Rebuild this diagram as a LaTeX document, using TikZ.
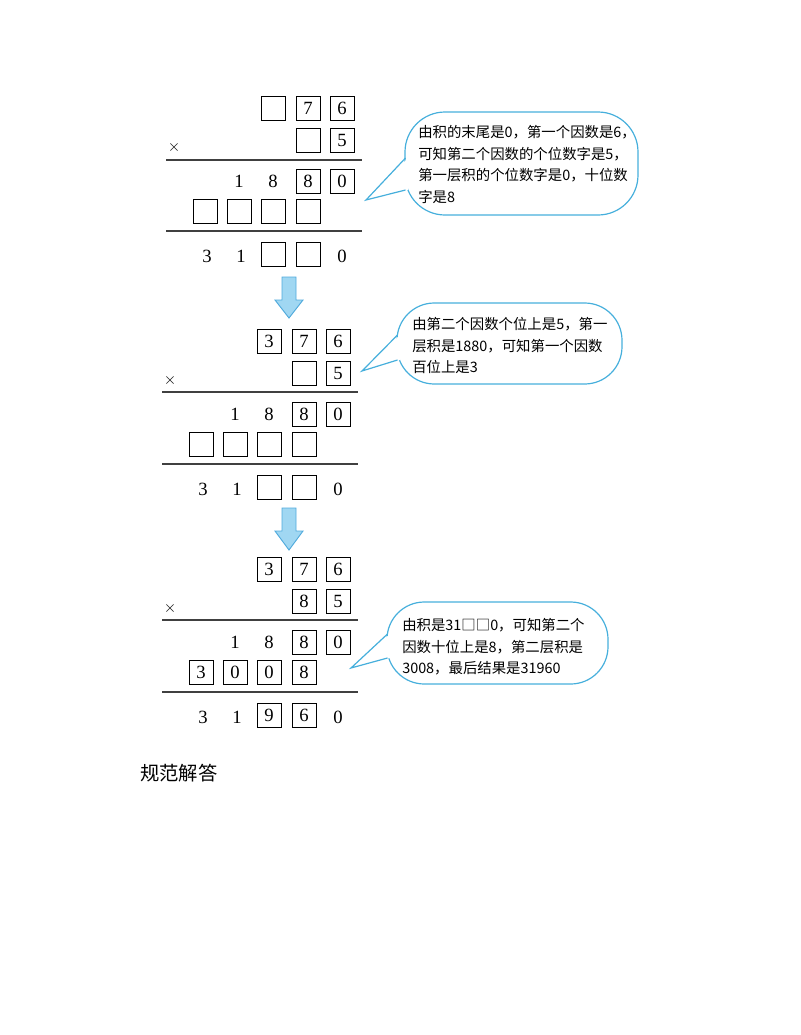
\documentclass[tikz,border=0pt]{standalone}
\usepackage{fontspec}
\setmainfont{Liberation Serif}
\newfontfamily\cjk{Noto Sans CJK SC}
\begin{document}
\begin{tikzpicture}[x=0.75pt,y=-0.75pt,
  dg/.style={inner sep=0pt,minimum size=18pt,font=\fontsize{14}{14}\selectfont},
  bx/.style={dg,draw,line width=0.7pt},
  rule/.style={line width=0.8pt,draw=black!75},
  bcol/.style={draw={rgb,255:red,70;green,175;blue,220},line width=0.9pt},
  btxt/.style={anchor=north west,align=left,inner sep=0pt,font=\cjk\fontsize{10.8}{16.2}\selectfont},
  barrow/.style={fill={rgb,255:red,160;green,215;blue,242},draw={rgb,255:red,80;green,170;blue,220},line width=0.7pt}]
\useasboundingbox (0,0) rectangle (800,1035);
% block 1
\node[bx] (a1) at (273,108) {};
\node[bx] (a2) at (308,108) {7};
\node[bx] (a3) at (342,108) {6};
\node[bx] (a4) at (308,140) {};
\node[bx] (a5) at (342,140) {5};
\node[dg] (ax) at (174,147) {\fontsize{13}{13}\selectfont$\times$};
\draw[rule] (166,160) -- (362,160);
\node[dg] (a6) at (239,181) {1};
\node[dg] (a7) at (273,181) {8};
\node[bx] (a8) at (308,181) {8};
\node[bx] (a9) at (342,181) {0};
\node[bx] (a10) at (205,211) {};
\node[bx] (a11) at (239,211) {};
\node[bx] (a12) at (273,211) {};
\node[bx] (a13) at (308,211) {};
\draw[rule] (166,231) -- (362,231);
\node[dg] (a14) at (207,256) {3};
\node[dg] (a15) at (241,256) {1};
\node[bx] (a16) at (273,254) {};
\node[bx] (a17) at (308,254) {};
\node[dg] (a18) at (342,256) {0};
\draw[bcol,rounded corners=30] (405,112) rectangle (638,215);
\fill[white] (408,158) -- (366,200) -- (408,190) -- cycle;
\draw[bcol] (405.5,158) -- (366,200) -- (405.5,190);
\node[btxt] (t1) at (418,125) {由积的末尾是0，第一个因数是6，\\可知第二个因数的个位数字是5，\\第一层积的个位数字是0，十位数\\字是8};
% arrow 1
\draw[barrow] (282,277) -- (296,277) -- (296,300) -- (303,300) -- (289,318) -- (275,300) -- (282,300) -- cycle;
% block 2
\begin{scope}[shift={(-4,233)}]
\node[bx] (b1) at (273,108) {3};
\node[bx] (b2) at (308,108) {7};
\node[bx] (b3) at (342,108) {6};
\node[bx] (b4) at (308,140) {};
\node[bx] (b5) at (342,140) {5};
\node[dg] (bx) at (174,147) {\fontsize{13}{13}\selectfont$\times$};
\draw[rule] (166,159) -- (362,159);
\node[dg] (b6) at (239,181) {1};
\node[dg] (b7) at (273,181) {8};
\node[bx] (b8) at (308,181) {8};
\node[bx] (b9) at (342,181) {0};
\node[bx] (b10) at (205,211) {};
\node[bx] (b11) at (239,211) {};
\node[bx] (b12) at (273,211) {};
\node[bx] (b13) at (308,211) {};
\draw[rule] (166,231) -- (362,231);
\node[dg] (b14) at (207,256) {3};
\node[dg] (b15) at (241,256) {1};
\node[bx] (b16) at (273,254) {};
\node[bx] (b17) at (308,254) {};
\node[dg] (b18) at (342,256) {0};
\end{scope}
\draw[bcol,rounded corners=28] (397,303) rectangle (622,384);
\fill[white] (400,335) -- (362,371) -- (400,360) -- cycle;
\draw[bcol] (397.5,335) -- (362,371) -- (397.5,360);
\node[btxt] (t2) at (412,317) {由第二个因数个位上是5，第一\\层积是1880，可知第一个因数\\百位上是3};
% arrow 2
\draw[barrow] (282,508) -- (296,508) -- (296,531) -- (303,531) -- (289,550) -- (275,531) -- (282,531) -- cycle;
% block 3
\begin{scope}[shift={(-4,461)}]
\node[bx] (c1) at (273,108) {3};
\node[bx] (c2) at (308,108) {7};
\node[bx] (c3) at (342,108) {6};
\node[bx] (c4) at (308,140) {8};
\node[bx] (c5) at (342,140) {5};
\node[dg] (cx) at (174,147) {\fontsize{13}{13}\selectfont$\times$};
\draw[rule] (166,159) -- (362,159);
\node[dg] (c6) at (239,181) {1};
\node[dg] (c7) at (273,181) {8};
\node[bx] (c8) at (308,181) {8};
\node[bx] (c9) at (342,181) {0};
\node[bx] (c10) at (205,211) {3};
\node[bx] (c11) at (239,211) {0};
\node[bx] (c12) at (273,211) {0};
\node[bx] (c13) at (308,211) {8};
\draw[rule] (166,231) -- (362,231);
\node[dg] (c14) at (207,256) {3};
\node[dg] (c15) at (241,256) {1};
\node[bx] (c16) at (273,254) {9};
\node[bx] (c17) at (308,254) {6};
\node[dg] (c18) at (342,256) {0};
\end{scope}
\draw[bcol,rounded corners=28] (387,602) rectangle (608,684);
\fill[white] (390,634) -- (351,668) -- (390,658) -- cycle;
\draw[bcol] (387.5,634) -- (351,668) -- (387.5,658);
\node[btxt] (t3) at (402,618) {由积是31□□0，可知第二个\\因数十位上是8，第二层积是\\3008，最后结果是31960};
\node[anchor=west,inner sep=0pt,font=\cjk\fontsize{14.5}{14.5}\selectfont] (h) at (140,773) {规范解答};
\end{tikzpicture}
\end{document}
